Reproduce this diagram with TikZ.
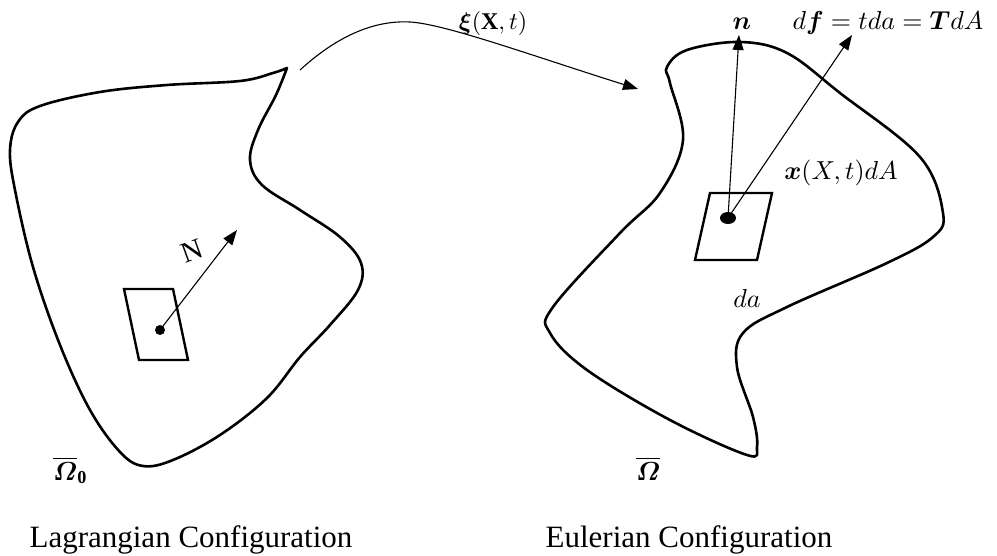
\documentclass[tikz,border=0pt]{standalone}
\usepackage{amsmath}
\usepackage{graphicx}
\usepackage{fontspec}
\setmainfont{Liberation Serif}
\usetikzlibrary{arrows.meta,shapes.geometric}

% math set at 10pt and enlarged as a whole
\newcommand{\mlab}[2]{\scalebox{#1}{$#2$}}

\tikzset{
  outline/.style={line width=2.6pt, line join=round, line cap=round},
  elem/.style={line width=2.4pt, line join=miter},
  vec/.style={line width=1.1pt, -{Triangle[length=15pt,width=11pt]}},
  mathlbl/.style={anchor=base, inner sep=0pt},
  caption/.style={font=\fontsize{31}{36}\selectfont, anchor=base, inner sep=0pt},
  omlbl/.style={anchor=base west, inner sep=0pt},
}

\begin{document}
\begin{tikzpicture}[x=1pt,y=-1pt]
\useasboundingbox (0,0) rectangle (997,556);

% reference body (left)
\draw[outline] plot[smooth, tension=0.6] coordinates {
  (287,68) (276,95) (258,130) (250,160) (262,185) (300,210) (340,237)
  (361,263) (358,290) (330,325) (300,357) (267,398) (220,435) (173,460)
  (143,466) (120,452) (90,410) (60,345) (33,267) (15,190) (10,150)
  (18,122) (40,106) (100,92) (167,85) (240,81) (273,73) (287,68)};

% area element and normal (left)
\draw[elem] (124,289) -- (173,289) -- (188,360) -- (139,360) -- cycle;
\node[circle, fill, inner sep=0pt, minimum size=10pt] (dotL) at (160,330) {};
\coordinate (tipN) at (237,230);
\draw[vec] (dotL.center) -- (tipN);
\node[font=\fontsize{29}{32}\selectfont, rotate=20] (labN) at (192,251) {N};

% current body (right)
\draw[outline] plot[smooth cycle, tension=0.6] coordinates {
  (740,42) (787,53) (840,93) (920,157) (943,213) (933,237) (887,263)
  (787,307) (743,333) (737,367) (753,417) (757,447) (747,455) (670,420)
  (587,370) (550,333) (553,307) (620,233) (660,193) (683,140) (670,83)
  (667,67) (687,50)};

% area element, normal and traction (right)
\draw[elem] (710,193) -- (772,193) -- (757,260) -- (695,260) -- cycle;
\node[ellipse, fill, inner sep=0pt, minimum width=16pt, minimum height=12pt] (dotR) at (728,218) {};
\coordinate (tipn) at (739,35);
\coordinate (tipf) at (852,35);
\draw[vec] (dotR.center) -- (tipn);
\draw[vec] (dotR.center) -- (tipf);

% motion map
\coordinate (mapS) at (300,70);
\coordinate (mapE) at (638,89);
\draw[vec] (mapS) .. controls (335,38) and (372,20) .. (410,22)
                  .. controls (445,24) and (530,55) .. (mapE);

% labels
\node[mathlbl] (labXi) at (493,30) {\mlab{2.4}{\boldsymbol{\xi}(\mathbf{X},t)}};
\node[mathlbl] (labn) at (742,30) {\mlab{2.6}{\boldsymbol{n}}};
\node[mathlbl] (labdf) at (888,30) {\mlab{2.6}{d\boldsymbol{f}=tda=\boldsymbol{T}dA}};
\node[mathlbl] (labx) at (841,180) {\mlab{2.6}{\boldsymbol{x}(X,t)dA}};
\node[mathlbl] (labda) at (747,308) {\mlab{2.6}{da}};
\node[omlbl] (labO0) at (53,480) {\mlab{2.6}{\overline{\boldsymbol{\varOmega}}_{\mathbf{0}}}};
\node[omlbl] (labO) at (636,480) {\mlab{2.6}{\overline{\boldsymbol{\varOmega}}}};

\node[caption] (capL) at (191,547) {Lagrangian Configuration};
\node[caption] (capE) at (689,547) {Eulerian Configuration};
\end{tikzpicture}
\end{document}
